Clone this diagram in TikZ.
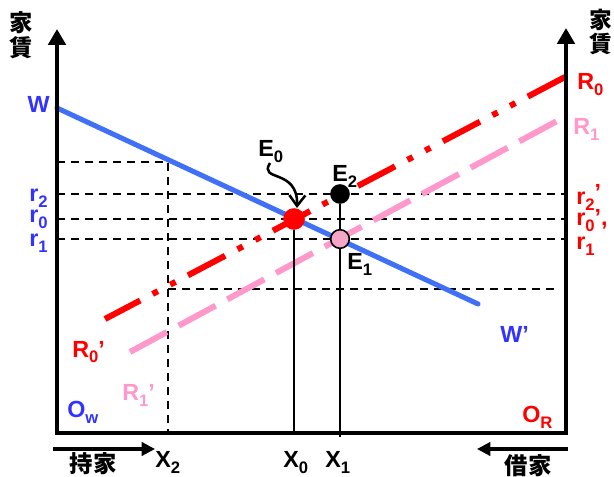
\documentclass[tikz,border=0pt]{standalone}
\usepackage{fontspec}
\setmainfont{Liberation Sans}
\newfontfamily\cjk{Noto Sans CJK JP}
\usetikzlibrary{arrows.meta}
\definecolor{wblue}{RGB}{64,112,245}
\definecolor{lblue}{RGB}{51,51,255}
\definecolor{pinkc}{RGB}{255,153,204}
\definecolor{pinkfill}{RGB}{245,165,200}
\definecolor{redc}{RGB}{255,0,0}
\newcommand\sbx[1]{\raisebox{-4.5pt}{\fontsize{12.5}{12.5}\selectfont #1}}
\begin{document}
\begin{tikzpicture}[x=0.75pt,y=-0.75pt,
  font=\fontsize{17.5}{17.5}\selectfont\bfseries,
  lbl/.style={inner sep=0pt},
  cjklbl/.style={inner sep=0pt,align=center,font=\cjk\bfseries\fontsize{17.5}{19}\selectfont},
  axisline/.style={line width=3pt,line join=miter},
  guide/.style={black,line width=2.1pt,dash pattern=on 6pt off 4.5pt},
  wline/.style={wblue,line width=3.8pt,line cap=round},
  rzero/.style={redc,line width=4.5pt,dash pattern=on 31.5pt off 10.5pt on 4.5pt off 10.5pt on 4.5pt off 10.5pt},
  rone/.style={pinkc,line width=4.5pt,dash pattern=on 31.5pt off 10pt},
  drop/.style={black,line width=1.2pt},
  eq/.style={circle,draw=black,line width=1.2pt,inner sep=0pt},
  dirarrow/.style={line width=2.3pt,-{Triangle[length=10pt,width=10pt]}}
]
\useasboundingbox (0,0) rectangle (614,477);
% coordinates
\coordinate (OW) at (57,433);
\coordinate (OR) at (566,433);
\coordinate (LT) at (57,29);
\coordinate (RT) at (566,28);
\coordinate (W0) at (57,108);
\coordinate (W1) at (478,304);
\coordinate (R0a) at (565,77);
\coordinate (R0b) at (105,319);
\coordinate (R1a) at (130,352);
\coordinate (R1b) at (557,121);
\coordinate (gA) at (57,162);
\coordinate (gB) at (168,162);
\coordinate (gC) at (168,433);
\coordinate (gD) at (168,289);
\coordinate (gE) at (558,289);
\coordinate (r2L) at (57,194);
\coordinate (r2R) at (566,194);
\coordinate (r0L) at (57,219);
\coordinate (r0R) at (566,219);
\coordinate (r1L) at (57,239);
\coordinate (r1R) at (566,239);
\coordinate (X0b) at (294,433);
\coordinate (X1b) at (340,437);
\coordinate (aLs) at (53,449);
\coordinate (aLe) at (155,449);
\coordinate (aRs) at (568,449);
\coordinate (aRe) at (477,449);
% guides
\draw[guide] (gA) -- (gB) -- (gC);
\draw[guide] (gD) -- (gE);
\draw[guide] (r2L) -- (r2R);
\draw[guide] (r0L) -- (r0R);
\draw[guide] (r1L) -- (r1R);
% curves
\draw[wline] (W0) -- (W1);
\draw[rone] (R1a) -- (R1b);
\draw[rzero] (R0a) -- (R0b);
% axes
\draw[axisline,{Triangle[length=12pt,width=13pt]}-{Triangle[length=12pt,width=13pt]}] (LT) -- (OW) -- (OR) -- (RT);
% equilibrium points
\node[eq,fill=redc,draw=redc,minimum size=15pt] (E0) at (294,219) {};
\node[eq,fill=black,minimum size=13.5pt] (E2) at (340,194) {};
\node[eq,fill=pinkfill,minimum size=14pt] (E1) at (340,239) {};
\draw[drop] (E0) -- (X0b);
\draw[drop] (E2) -- (E1);
\draw[drop] (E1) -- (X1b);
% labels
\node[lbl,anchor=base east,text=lblue] (lW) at (50,113) {W};
\node[lbl,anchor=base east,text=lblue] (lr2) at (48,202) {r\sbx{2}};
\node[lbl,anchor=base east,text=lblue] (lr0) at (48,223) {r\sbx{0}};
\node[lbl,anchor=base east,text=lblue] (lr1) at (48,247) {r\sbx{1}};
\node[lbl,anchor=base west,text=redc] (lR0) at (577,90) {R\sbx{0}};
\node[lbl,anchor=base west,text=pinkc] (lR1) at (573,135) {R\sbx{1}};
\node[lbl,anchor=base west,text=redc] (rr2) at (576,205) {r\sbx{2}\raisebox{3pt}{’}};
\node[lbl,anchor=base west,text=redc] (rr0) at (576,226) {r\sbx{0}’,};
\node[lbl,anchor=base west,text=redc] (rr1) at (576,250) {r\sbx{1}};
\node[lbl,anchor=base west,text=redc] (lR0p) at (72,357) {R\sbx{0}’};
\node[lbl,anchor=base west,text=pinkc] (lR1p) at (122,400) {R\sbx{1}’};
\node[lbl,anchor=base west,text=lblue] (lWp) at (500,342) {W’};
\node[lbl,anchor=base west,text=lblue] (lOw) at (67,417) {O\sbx{w}};
\node[lbl,anchor=base west,text=redc] (lOR) at (522,422) {O\sbx{R}};
\node[lbl,anchor=base west] (lE0) at (258,157) {E\sbx{0}};
\node[lbl,anchor=base west] (lE2) at (332,182) {E\sbx{2}};
\node[lbl,anchor=base west] (lE1) at (347,270) {E\sbx{1}};
\node[lbl,anchor=base west] (lX0) at (283,467) {X\sbx{0}};
\node[lbl,anchor=base west] (lX1) at (325,467) {X\sbx{1}};
\node[lbl,anchor=base west] (lX2) at (155,467) {X\sbx{2}};
% E0 pointer
\coordinate (E0tip) at (297,208);
\draw[line width=1.9pt,-{Straight Barb[length=8pt,width=12pt]}] (270,163) .. controls (258,182) and (298,168) .. (E0tip);
% CJK
\node[cjklbl] (yL) at (21,35) {家\\賃};
\node[cjklbl,font=\cjk\bfseries\fontsize{17}{17.5}\selectfont] (yR) at (601,32) {家\\賃};
\node[cjklbl] (own) at (93,464) {持家};
\node[cjklbl] (rent) at (528,466) {借家};
% direction arrows
\draw[dirarrow] (aLs) -- (aLe);
\draw[dirarrow] (aRs) -- (aRe);
\end{tikzpicture}
\end{document}
